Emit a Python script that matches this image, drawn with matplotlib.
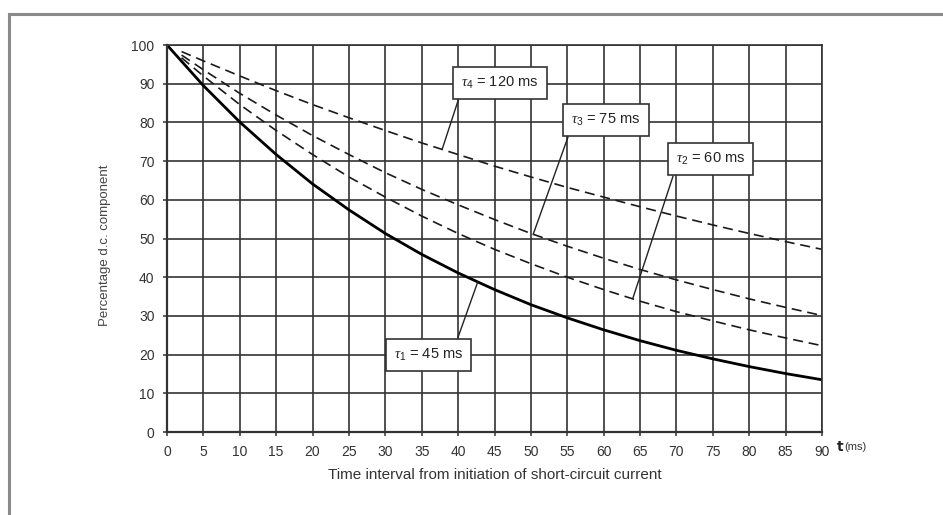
import matplotlib
matplotlib.use("Agg")
import matplotlib.pyplot as plt
from matplotlib.lines import Line2D

plt.rcParams['font.family'] = ['Liberation Sans', 'DejaVu Sans']
plt.rcParams['mathtext.fontset'] = 'custom'
plt.rcParams['mathtext.rm'] = 'Liberation Sans'
plt.rcParams['mathtext.it'] = 'Liberation Serif:italic'

# ---- data ----
t_solid = [0, 5, 10, 15, 20, 25, 30, 35, 40, 45, 50, 55, 60, 65, 70, 75, 80, 85, 90]
tau1_vals = [100, 89.5, 80.1, 71.7, 64.1, 57.4, 51.3, 45.9, 41.1, 36.8, 32.9, 29.5,
             26.4, 23.6, 21.1, 18.9, 16.9, 15.1, 13.5]
t_dash = [2, 5, 10, 15, 20, 25, 30, 35, 40, 45, 50, 55, 60, 65, 70, 75, 80, 85, 90]
tau2_vals = [96.7, 92.0, 84.6, 77.9, 71.7, 65.9, 60.7, 55.8, 51.3, 47.2, 43.5, 40.0,
             36.8, 33.8, 31.1, 28.7, 26.4, 24.3, 22.3]
tau3_vals = [97.4, 93.6, 87.5, 81.9, 76.6, 71.7, 67.0, 62.7, 58.7, 54.9, 51.3, 48.0,
             44.9, 42.0, 39.3, 36.8, 34.4, 32.2, 30.1]
tau4_vals = [98.3, 95.9, 92.0, 88.2, 84.6, 81.2, 77.9, 74.7, 71.7, 68.7, 65.9, 63.2,
             60.7, 58.2, 55.8, 53.5, 51.3, 49.2, 47.2]

x_ticks = list(range(0, 91, 5))
y_ticks = list(range(0, 101, 10))

labels = [r'$\tau_4$ = 120 ms', r'$\tau_3$ = 75 ms', r'$\tau_2$ = 60 ms', r'$\tau_1$ = 45 ms']
label_points = [(37.8, 73.0), (50.3, 51.0), (64.0, 34.5), (42.7, 38.8)]
label_boxes = [(45.75, 90.2), (60.3, 80.6), (74.7, 70.5), (35.9, 19.9)]
label_relpos = [(0, 0), (0, 0), (0, 0), (0.88, 1)]

xlabel = 'Time interval from initiation of short-circuit current'
ylabel = 'Percentage d.c. component'

# ---- figure ----
W, H = 943, 515
fig = plt.figure(figsize=(W / 100, H / 100), dpi=100)
fig.patch.set_facecolor('white')

# outer frame (top and left)
fig.add_artist(Line2D([9 / W, 1.0], [1 - 14 / H, 1 - 14 / H], color='#8a8a8a', lw=2.2,
                      transform=fig.transFigure))
fig.add_artist(Line2D([9 / W, 9 / W], [1 - 14 / H, 0.0], color='#8a8a8a', lw=2.2,
                      transform=fig.transFigure))

ax = fig.add_axes([167 / W, 1 - 432 / H, (822 - 167) / W, (432 - 45) / H])
ax.set_xlim(0, 90)
ax.set_ylim(0, 100)
ax.set_xticks(x_ticks)
ax.set_yticks(y_ticks)
ax.grid(True, color='#333333', lw=1.2)
ax.set_axisbelow(True)
for s in ax.spines.values():
    s.set_color('#333333')
    s.set_linewidth(1.2)
ax.spines['left'].set_linewidth(1.6)
ax.spines['bottom'].set_linewidth(1.6)
ax.tick_params(direction='out', length=3, width=1.1, color='#333333',
               labelsize=10, labelcolor='#333333', pad=6)

ax.plot(t_solid, tau1_vals, color='black', lw=2.0, solid_capstyle='butt')
for vals in (tau2_vals, tau3_vals, tau4_vals):
    ax.plot(t_dash, vals, color='#1a1a1a', lw=1.2, dashes=(6, 3.5))

for lab, pt, bx, rp in zip(labels, label_points, label_boxes, label_relpos):
    ax.annotate(lab, xy=pt, xytext=bx, xycoords='data', textcoords='data',
                ha='center', va='center', fontsize=10.5, color='#222222',
                bbox=dict(boxstyle='square,pad=0.55', fc='white', ec='#333333', lw=1.2),
                arrowprops=dict(arrowstyle='-', color='#222222', lw=1.0,
                                relpos=rp, shrinkA=0, shrinkB=0))

ax.set_xlabel(xlabel, fontsize=11, color='#333333')
ax.xaxis.set_label_coords(0.5, -0.111)
ax.xaxis.label.set_va('center')
ax.set_ylabel(ylabel, fontsize=9.5, color='#444444')
ax.yaxis.set_label_coords(-0.0947, 0.483)
ax.yaxis.label.set_va('center')

ax.text(1.022, -0.039, r'$\mathbf{t}$', transform=ax.transAxes, ha='left', va='center',
        fontsize=10, color='#222222')
ax.text(1.034, -0.040, '(ms)', transform=ax.transAxes, ha='left', va='center',
        fontsize=8, color='#333333')

fig.savefig('out.png', dpi=100, facecolor='white')
